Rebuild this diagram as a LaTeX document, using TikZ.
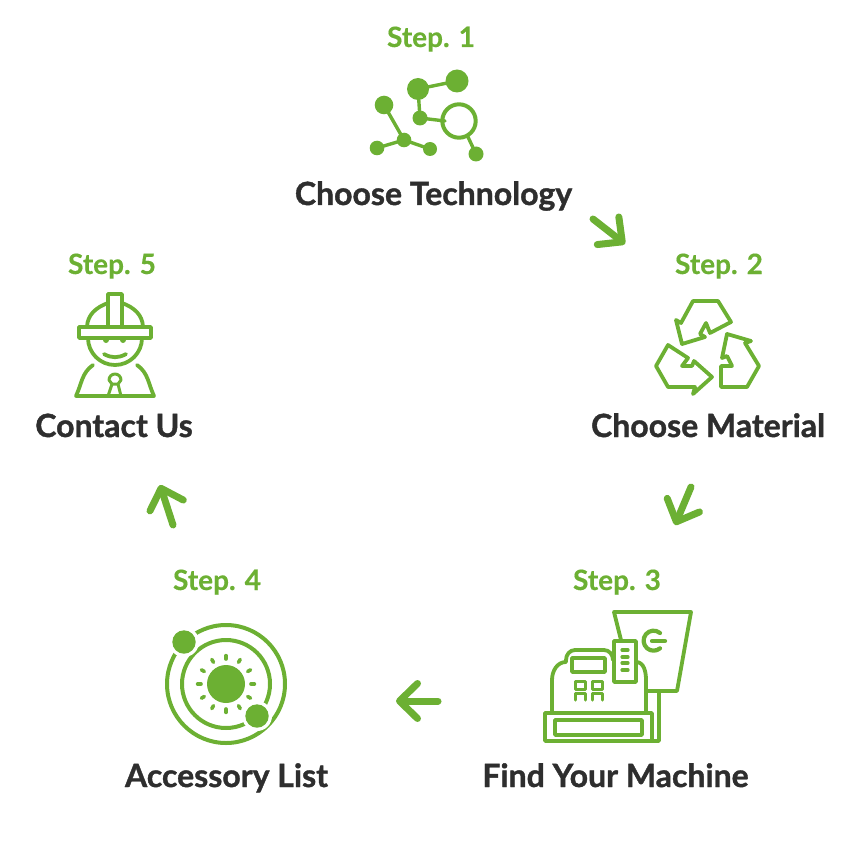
\documentclass[tikz,border=0pt]{standalone}
\usepackage{fontspec}
\setmainfont{Lato}
\usepackage{xcolor}
\usetikzlibrary{arrows.meta,positioning}
\definecolor{stepgreen}{HTML}{6CB033}
\definecolor{titledark}{HTML}{2E2E2E}
\tikzset{
  steplabel/.style={anchor=base,text=stepgreen,font=\fontsize{28}{30}\selectfont\bfseries\addfontfeature{FakeBold=0.4},inner sep=0pt},
  titlelabel/.style={anchor=base,text=titledark,font=\fontsize{32}{36}\selectfont\bfseries\addfontfeature{FakeBold=1.2},inner sep=0pt},
  iconline/.style={draw=stepgreen,line width=3.8pt,line join=round,line cap=round},
  flowarrow/.style={draw=stepgreen,line width=7pt,line cap=round,
    -{Straight Barb[length=18pt,width=35pt,round]}},
}
\begin{document}
\begin{tikzpicture}[x=1pt,y=-1pt,fill=stepgreen]
\useasboundingbox (0,0)rectangle(850,850);

% labels
\node[steplabel] (step1) at (431,47) {Step. 1};
\node[titlelabel] (tech) at (433.5,205) {Choose Technology};
\node[steplabel] (step2) at (719,274) {Step. 2};
\node[titlelabel] (material) at (708,437) {Choose Material};
\node[steplabel] (step3) at (617,590) {Step. 3};
\node[titlelabel] (machine) at (615.5,787) {Find Your Machine};
\node[steplabel] (step4) at (217,590) {Step. 4};
\node[titlelabel] (accessory) at (226.5,787) {Accessory List};
\node[steplabel] (step5) at (112,274) {Step. 5};
\node[titlelabel] (contact) at (114,437) {Contact Us};

% arrows
\coordinate (a1s) at (593,219);
\coordinate (a1e) at (625,244);
\coordinate (a2s) at (691,487);
\coordinate (a2e) at (675,525);
\coordinate (a3s) at (438,701);
\coordinate (a3e) at (396,701);
\coordinate (a4s) at (173,525);
\coordinate (a4e) at (160,485);
\draw[flowarrow] (a1s)--(a1e);
\draw[flowarrow] (a2s)--(a2e);
\draw[flowarrow] (a3s)--(a3e);
\draw[flowarrow] (a4s)--(a4e);

% molecule
\draw[iconline,line width=3.4pt]
(384,105)--(404,140)
(377,148)--(404,140)--(430,149)
(418,89)--(457,81)
(418,89)--(420,118)--(445,121)
(468,137)--(476,154);
\fill (384,105)circle(9.3)
(377,148)circle(7.3)
(404,140)circle(7.3)
(430,149)circle(7)
(418,89)circle(11)
(457,81)circle(11.5)
(420,118)circle(7.5)
(476,154)circle(7.5);
\draw[stepgreen,line width=4pt] (459,121)circle(16.7);

% recycling
\draw[iconline] (693,301)--(718,301)--(731,322)--(710,333)--(706,323)--(700,334)--(705,337)--(682,344)--(676,320)--(681,323)--cycle;
\draw[iconline] (668,345)--(656,366)--(668,387)--(695,387)--(693,394)--(712,377)--(694,361)--(692,366)--(682,366)--(688,358)--cycle;
\draw[iconline] (727,334)--(751,341)--(745,343)--(759,366)--(747,387)--(721,387)--(721,366)--(732,366)--(727,356)--(722,358)--cycle;

% cash register
\draw[iconline] (621,640)--(614,612)--(691,612)--(677,691)--(647,691);
\draw[iconline] (659,691)--(659,741)--(652,741);
\draw[iconline] (614,641)rectangle(636,682);
\draw[iconline] (552,713)--(552,680)to[out=90,in=180](566,662)--(566,660)to[out=90,in=180](575,650)--(604,650)to[out=0,in=90](613,660);
\draw[iconline] (636,662)to[out=0,in=90](646,680)--(646,713);
\draw[iconline] (572,658)rectangle(605,672);
\draw[iconline] (545,713)rectangle(652,741);
\draw[iconline] (555,720)rectangle(642,735);
\foreach \slotY in {650,657,663,670}
  \draw[iconline,line width=3.2pt] (622,\slotY)--(628,\slotY);
\foreach \keyX in {575,592}{
  \draw[iconline,line width=3pt] (\keyX,689)--(\keyX,681)--(\keyX+10,681)--(\keyX+10,689)--cycle;
  \draw[iconline,line width=3pt] (\keyX,700)--(\keyX,693)--(\keyX+10,693)--(\keyX+10,700);
}
\draw[iconline,line width=4.2pt] (665,641)--(652,641);
\draw[iconline,line width=4.2pt] (660,633)arc(-50:-310:10);

% solar
\fill (226,684)circle(19);
\foreach \rayA in {0,30,...,330}
  \draw[iconline,line width=3.6pt] (226,684)++(\rayA:25)--++(\rayA:3.4);
\draw[stepgreen,line width=4pt] (226,684)circle(44);
\draw[stepgreen,line width=4pt] (226,684)circle(59);
\fill[white] (184,642)circle(15) (257,716)circle(15);
\fill (184,642)circle(11.7) (257,716)circle(11.7);

% worker
\draw[iconline] (79,327)rectangle(151,338);
\draw[iconline] (108,325)--(108,294)--(122,294)--(122,325);
\draw[iconline] (87,327)to[out=88,in=200](108,303);
\draw[iconline] (122,303)to[out=-20,in=92](143,327);
\draw[iconline] (88,338)arc(180:0:27);
\fill (106,340)circle(3) (123,340)circle(3);
\draw[iconline] (104,354)to[out=-30,in=210](126,354);
\draw[iconline] (93,365)to[out=215,in=65](76,396)--(154,396)to[out=115,in=-35](137,365);
\draw[iconline,line width=3pt] (109,380)arc(180:360:6)--(118,384)--(112,384)--cycle;
\draw[iconline,line width=3pt] (112,384)--(108,396);
\draw[iconline,line width=3pt] (118,384)--(121,396);
\end{tikzpicture}
\end{document}
